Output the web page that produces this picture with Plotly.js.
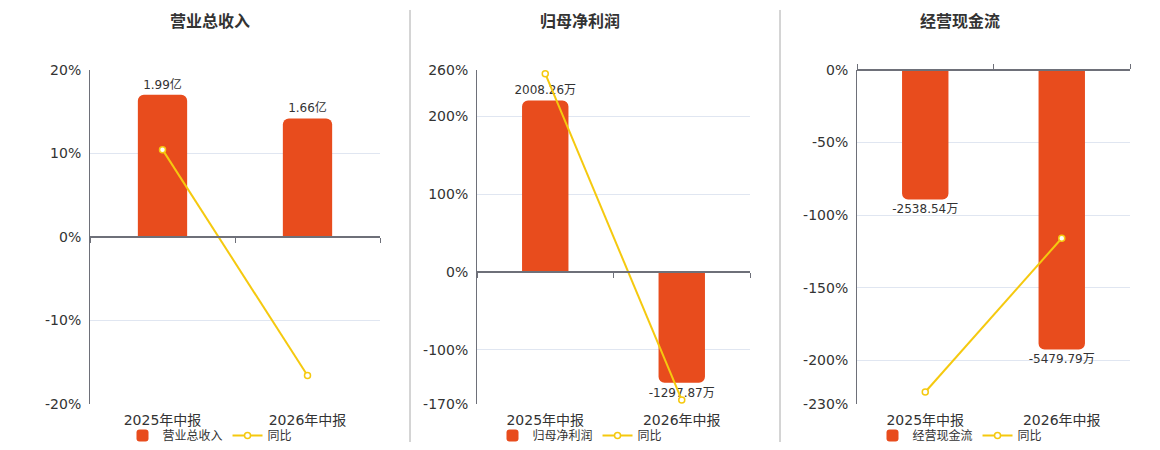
<!DOCTYPE html>
<html>
<head>
<meta charset="utf-8">
<script src="https://cdn.plot.ly/plotly-3.0.1.min.js"></script>
<style>
  html, body { margin: 0; padding: 0; background: #fff; }
  #chart { width: 1160px; height: 450px; }
</style>
</head>
<body>
<div id="chart"></div>
<script>
// categories
const periods = ['2025年中报', '2026年中报'];

// 营业总收入 (亿) + 同比 (%)
const revenue = [1.99, 1.66];
const revenueLabels = ['1.99亿', '1.66亿'];
const revenueYoy = [10.45, -16.58];

// 归母净利润 (万) + 同比 (%)
const profit = [2008.26, -1297.87];
const profitLabels = ['2008.26万', '-1297.87万'];
const profitYoy = [255, -164.63];

// 经营现金流 (万) + 同比 (%)
const cashflow = [-2538.54, -5479.79];
const cashflowLabels = ['-2538.54万', '-5479.79万'];
const cashflowYoy = [-221.7, -115.87];

// percent axis ticks
const pctTicks1 = [-20, -10, 0, 10, 20];
const pctTicks2 = [-170, -100, 0, 100, 200, 260];
const pctTicks3 = [-230, -200, -150, -100, -50, 0];

const BAR = '#e84c1d';
const LINE = '#f5c90f';
const AXIS = '#6e7079';
const GRID = '#e0e6f1';
const TXT = '#333';
const FONT = 'DejaVu Sans, "Noto Sans CJK SC", sans-serif';

const yDom = [1 - 405 / 450, 1 - 70 / 450];

const panels = [
    { title: '营业总收入', name: '营业总收入', bars: revenue, labels: revenueLabels, yoy: revenueYoy,
      ticks: pctTicks1, barRange: [-2.34, 2.34], dom: [90, 380], cx: 210, zeroSide: 'bottom' },
    { title: '归母净利润', name: '归母净利润', bars: profit, labels: profitLabels, yoy: profitYoy,
      ticks: pctTicks2, barRange: [-2367 * 170 / 260, 2367], dom: [477, 750], cx: 580, zeroSide: 'bottom' },
    { title: '经营现金流', name: '经营现金流', bars: cashflow, labels: cashflowLabels, yoy: cashflowYoy,
      ticks: pctTicks3, barRange: [-6550, 0], dom: [857, 1130], cx: 960, zeroSide: 'top' }
];

const traces = [];
const layout = {
    width: 1160,
    height: 450,
    autosize: false,
    margin: { t: 0, b: 0, l: 0, r: 0 },
    paper_bgcolor: '#fff',
    plot_bgcolor: 'rgba(0,0,0,0)',
    font: { family: FONT, color: TXT },
    barcornerradius: 6,
    annotations: [],
    shapes: []
};

panels.forEach((p, i) => {
    const a = 2 * i + 1, b = 2 * i + 2;
    const ax = n => (n === 1 ? '' : String(n));
    const legendId = i === 0 ? 'legend' : 'legend' + (i + 1);
    const pctRange = [Math.min(...p.ticks), Math.max(...p.ticks)];
    const xDomain = [p.dom[0] / 1160, p.dom[1] / 1160];
    const zeroPos = yDom[0] + (0 - pctRange[0]) / (pctRange[1] - pctRange[0]) * (yDom[1] - yDom[0]);

    traces.push({
        type: 'bar',
        name: p.name,
        x: periods,
        y: p.bars,
        text: p.labels,
        texttemplate: '%{text}',
        textposition: 'outside',
        constraintext: 'none',
        cliponaxis: false,
        textfont: { size: 12, color: TXT, family: FONT },
        width: 0.34,
        marker: { color: BAR },
        xaxis: 'x' + ax(a),
        yaxis: 'y' + ax(a),
        legend: legendId,
        hoverinfo: 'skip'
    });
    traces.push({
        type: 'scatter',
        mode: 'lines+markers',
        name: '同比',
        x: periods,
        y: p.yoy,
        line: { color: LINE, width: 2 },
        marker: { symbol: 'circle', size: 6, color: '#fff', line: { color: LINE, width: 1.5 } },
        cliponaxis: false,
        xaxis: 'x' + ax(b),
        yaxis: 'y' + ax(b),
        legend: legendId,
        hoverinfo: 'skip'
    });

    // category axis (labels at the bottom)
    layout['xaxis' + ax(a)] = {
        domain: xDomain,
        anchor: 'y' + ax(a),
        type: 'category',
        range: [-0.5, 1.5],
        showgrid: false,
        showline: false,
        ticks: '',
        ticklabelstandoff: 6,
        tickfont: { size: 14, color: TXT },
        fixedrange: true
    };
    // zero-line axis with boundary ticks
    layout['xaxis' + ax(b)] = {
        overlaying: 'x' + ax(a),
        anchor: 'free',
        position: zeroPos,
        side: p.zeroSide,
        type: 'category',
        range: [-0.5, 1.5],
        showgrid: false,
        showline: true,
        linecolor: AXIS,
        linewidth: 2,
        ticks: 'outside',
        tickson: 'boundaries',
        ticklen: 5,
        tickcolor: AXIS,
        showticklabels: false,
        fixedrange: true
    };
    // bar value axis (hidden)
    layout['yaxis' + ax(a)] = {
        domain: yDom,
        anchor: 'x' + ax(a),
        range: p.barRange,
        visible: false,
        fixedrange: true
    };
    // percent axis
    layout['yaxis' + ax(b)] = {
        overlaying: 'y' + ax(a),
        anchor: 'x' + ax(a),
        side: 'left',
        range: pctRange,
        tickmode: 'array',
        tickvals: p.ticks,
        ticktext: p.ticks.map(v => v + '%'),
        tickfont: { size: 14, color: TXT },
        showgrid: true,
        gridcolor: GRID,
        gridwidth: 1,
        zeroline: false,
        showline: true,
        linecolor: AXIS,
        linewidth: 1,
        ticks: '',
        ticklabelstandoff: 5,
        fixedrange: true
    };

    layout[legendId] = {
        orientation: 'h',
        x: p.cx / 1160,
        xanchor: 'center',
        y: 1 - 436 / 450,
        yanchor: 'middle',
        bgcolor: 'rgba(0,0,0,0)',
        font: { size: 12, color: TXT },
        itemwidth: 30,
        traceorder: 'normal'
    };

    layout.annotations.push({
        xref: 'paper', yref: 'paper',
        x: p.cx / 1160, y: 1 - 22 / 450,
        xanchor: 'center', yanchor: 'middle',
        text: '<b>' + p.title + '</b>',
        showarrow: false,
        font: { size: 16, color: TXT, family: FONT }
    });
});

// panel separators
[410, 780].forEach(px => {
    layout.shapes.push({
        type: 'line', xref: 'paper', yref: 'paper',
        x0: px / 1160, x1: px / 1160, y0: 1 - 443 / 450, y1: 1 - 10 / 450,
        line: { color: '#aaaaaa', width: 1 }
    });
});

Plotly.newPlot('chart', traces, layout, { displayModeBar: false, staticPlot: true });
</script>
</body>
</html>
